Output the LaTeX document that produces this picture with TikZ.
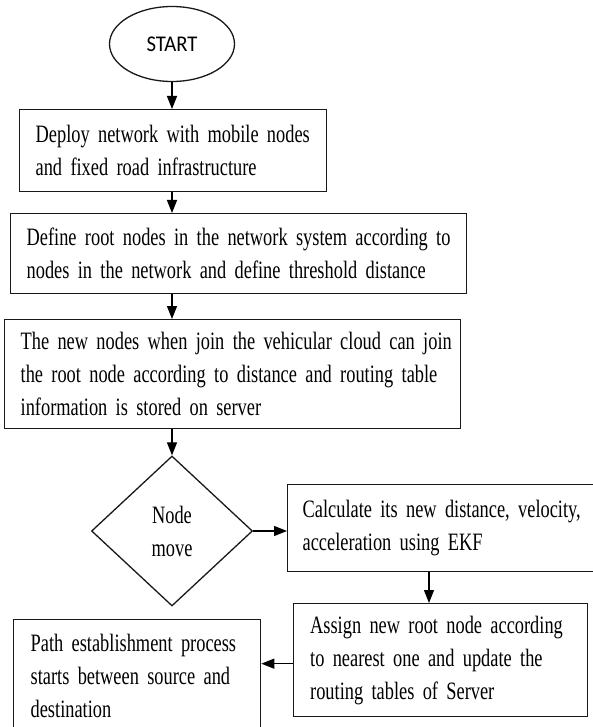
\documentclass[tikz,border=0pt]{standalone}
\usepackage{fontspec}
\setmainfont{Liberation Serif}[FakeStretch=0.735]
\newfontfamily\startfont{Carlito}[FakeStretch=0.92]
\newcommand\boxfont{\fontsize{25}{33}\selectfont}
\usetikzlibrary{shapes.geometric,arrows.meta}
\begin{document}
\begin{tikzpicture}[x=1pt,y=-1pt,
  box/.style={draw=black!90, line width=1.3pt, rectangle, anchor=north west,
    inner xsep=16pt, inner ysep=0pt, align=left,
    font=\boxfont, text=black},
  arr/.style={draw=black, line width=1.2pt, -{Triangle[width=10pt,length=13pt]}}]
\useasboundingbox (0,0) rectangle (593,727);
\fill[white] (0,0) rectangle (593,727);

\node[draw=black!90, line width=1.3pt, ellipse, minimum width=125pt, minimum height=75pt,
  inner sep=0pt, font=\startfont\fontsize{22.5}{26}\selectfont, text=black] (start) at (172,44) {START};

\node[box, minimum width=307pt, text width=275pt, minimum height=82pt] (b1) at (19,109)
  {\mbox{Deploy network with mobile nodes}\\\mbox{and fixed road infrastructure}};

\node[box, minimum width=456pt, text width=424pt, minimum height=80pt] (b2) at (10,213)
  {\mbox{Define root nodes in the network system according to}\\\mbox{nodes in the network and define threshold distance}};

\node[box, minimum width=456pt, text width=424pt, minimum height=109pt] (b3) at (4,319)
  {\mbox{The new nodes when join the vehicular cloud can join}\\\mbox{the root node according to distance and routing table}\\\mbox{information is stored on server}};

\node[draw=black!90, line width=1.3pt, diamond, minimum width=161pt, minimum height=150pt,
  inner sep=0pt, align=center, font=\boxfont, text=black] (dec) at (172,531)
  {Node\\move};

\node[box, inner xsep=15pt, minimum width=313pt, text width=283pt, minimum height=87pt] (b4) at (287,484)
  {\mbox{Calculate its new distance, velocity,}\\\mbox{acceleration using EKF}};

\node[box, inner xsep=16.5pt, minimum width=294pt, text width=261pt, minimum height=113pt] (b5) at (293,603)
  {\makebox[261pt][s]{Assign new root node according}\\\makebox[261pt][s]{to nearest one and update the}\\\mbox{routing tables of Server}};

\node[box, inner xsep=17pt, minimum width=247pt, text width=213pt, minimum height=112pt] (b6) at (13,619)
  {\makebox[213pt][s]{Path establishment process}\\\makebox[213pt][s]{starts between source and}\\\mbox{destination}};

\coordinate (c45) at (429,0);
\draw[arr] (start.south) -- (b1.north -| start.south);
\draw[arr] (b1.south -| start.south) -- (b2.north -| start.south);
\draw[arr] (b2.south -| start.south) -- (b3.north -| start.south);
\draw[arr] (b3.south -| start.south) -- (dec.north);
\draw[arr] (dec.east) -- (dec.east -| b4.west);
\draw[arr] (b4.south -| c45) -- (b5.north -| c45);
\draw[arr] ([yshift=-3.5pt]b5.west) -- ([yshift=-3.5pt]b5.west -| b6.east);
\end{tikzpicture}
\end{document}
